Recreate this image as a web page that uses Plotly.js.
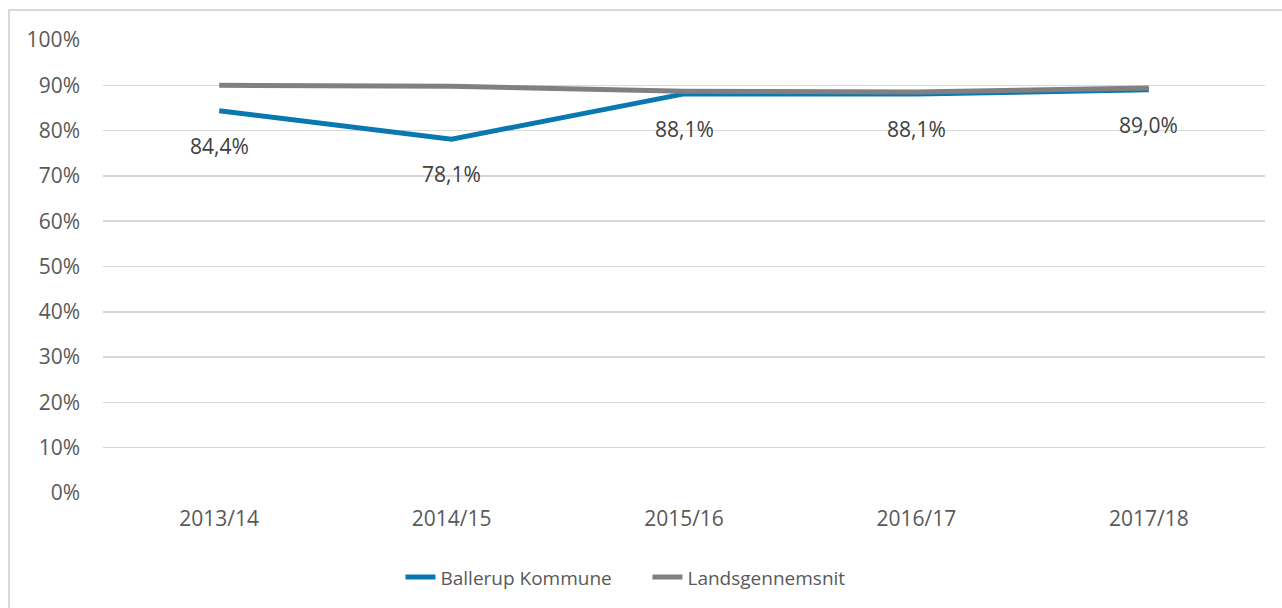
<!DOCTYPE html>
<html>
<head>
<meta charset="utf-8">
<script src="https://cdn.plot.ly/plotly-3.0.1.min.js"></script>
<style>
html,body{margin:0;padding:0;background:#fff;overflow:hidden;}
#chart{width:1282px;height:608px;position:absolute;left:0;top:0;}
#frame{position:absolute;left:8px;top:9px;width:1400px;height:800px;border:2px solid #d9d9d9;pointer-events:none;box-sizing:border-box;}
</style>
</head>
<body>
<div id="chart"></div>
<div id="frame"></div>
<script>
const categories = ["2013/14", "2014/15", "2015/16", "2016/17", "2017/18"];
const ballerup = [0.844, 0.781, 0.881, 0.881, 0.890];
const landsgennemsnit = [0.900, 0.898, 0.887, 0.885, 0.894];
const ballerupLabels = ["84,4%", "78,1%", "88,1%", "88,1%", "89,0%"];
const seriesNames = ["Ballerup Kommune", "Landsgennemsnit"];
const yTickVals = [0, 0.1, 0.2, 0.3, 0.4, 0.5, 0.6, 0.7, 0.8, 0.9, 1.0];
const yTickText = ["0%", "10%", "20%", "30%", "40%", "50%", "60%", "70%", "80%", "90%", "100%"];

const FONT = "Open Sans, Noto Sans, sans-serif";
const TXT = "#595959";

const traces = [
  {x: categories, y: ballerup, name: seriesNames[0], type: "scatter", mode: "lines",
   line: {color: "#0a78b0", width: 5}, hoverinfo: "skip"},
  {x: categories, y: landsgennemsnit, name: seriesNames[1], type: "scatter", mode: "lines",
   line: {color: "#808080", width: 5}, hoverinfo: "skip"}
];

const annotations = categories.map((c, i) => ({
  x: c, y: ballerup[i], xref: "x", yref: "y", text: ballerupLabels[i],
  showarrow: false, yshift: -35, xanchor: "center", yanchor: "middle",
  font: {family: FONT, size: 21, color: "#404040"}
}));

const layout = {
  width: 1282, height: 608,
  margin: {l: 103, r: 17, t: 40, b: 115},
  paper_bgcolor: "rgba(0,0,0,0)", plot_bgcolor: "#fff",
  showlegend: true,
  legend: {orientation: "h", x: 0.256, xanchor: "left", y: -0.186, yanchor: "middle",
           font: {family: FONT, size: 19, color: TXT}, itemwidth: 30, entrywidth: 202,
           entrywidthmode: "pixels", tracegroupgap: 0},
  xaxis: {type: "category", range: [-0.5, 4.5], showgrid: false, zeroline: false,
          showline: false, ticks: "", tickfont: {family: FONT, size: 21, color: TXT},
          ticklabelstandoff: 11, fixedrange: true},
  yaxis: {range: [0, 1], tickvals: yTickVals, ticktext: yTickText, showgrid: true,
          gridcolor: "#d9d9d9", gridwidth: 1.5, zeroline: false, showline: false, ticks: "",
          tickfont: {family: FONT, size: 21, color: TXT}, ticklabelstandoff: 22, fixedrange: true},
  annotations: annotations,
  font: {family: FONT, color: TXT}
};

Plotly.newPlot("chart", traces, layout, {displayModeBar: false, staticPlot: true});
</script>
</body>
</html>
